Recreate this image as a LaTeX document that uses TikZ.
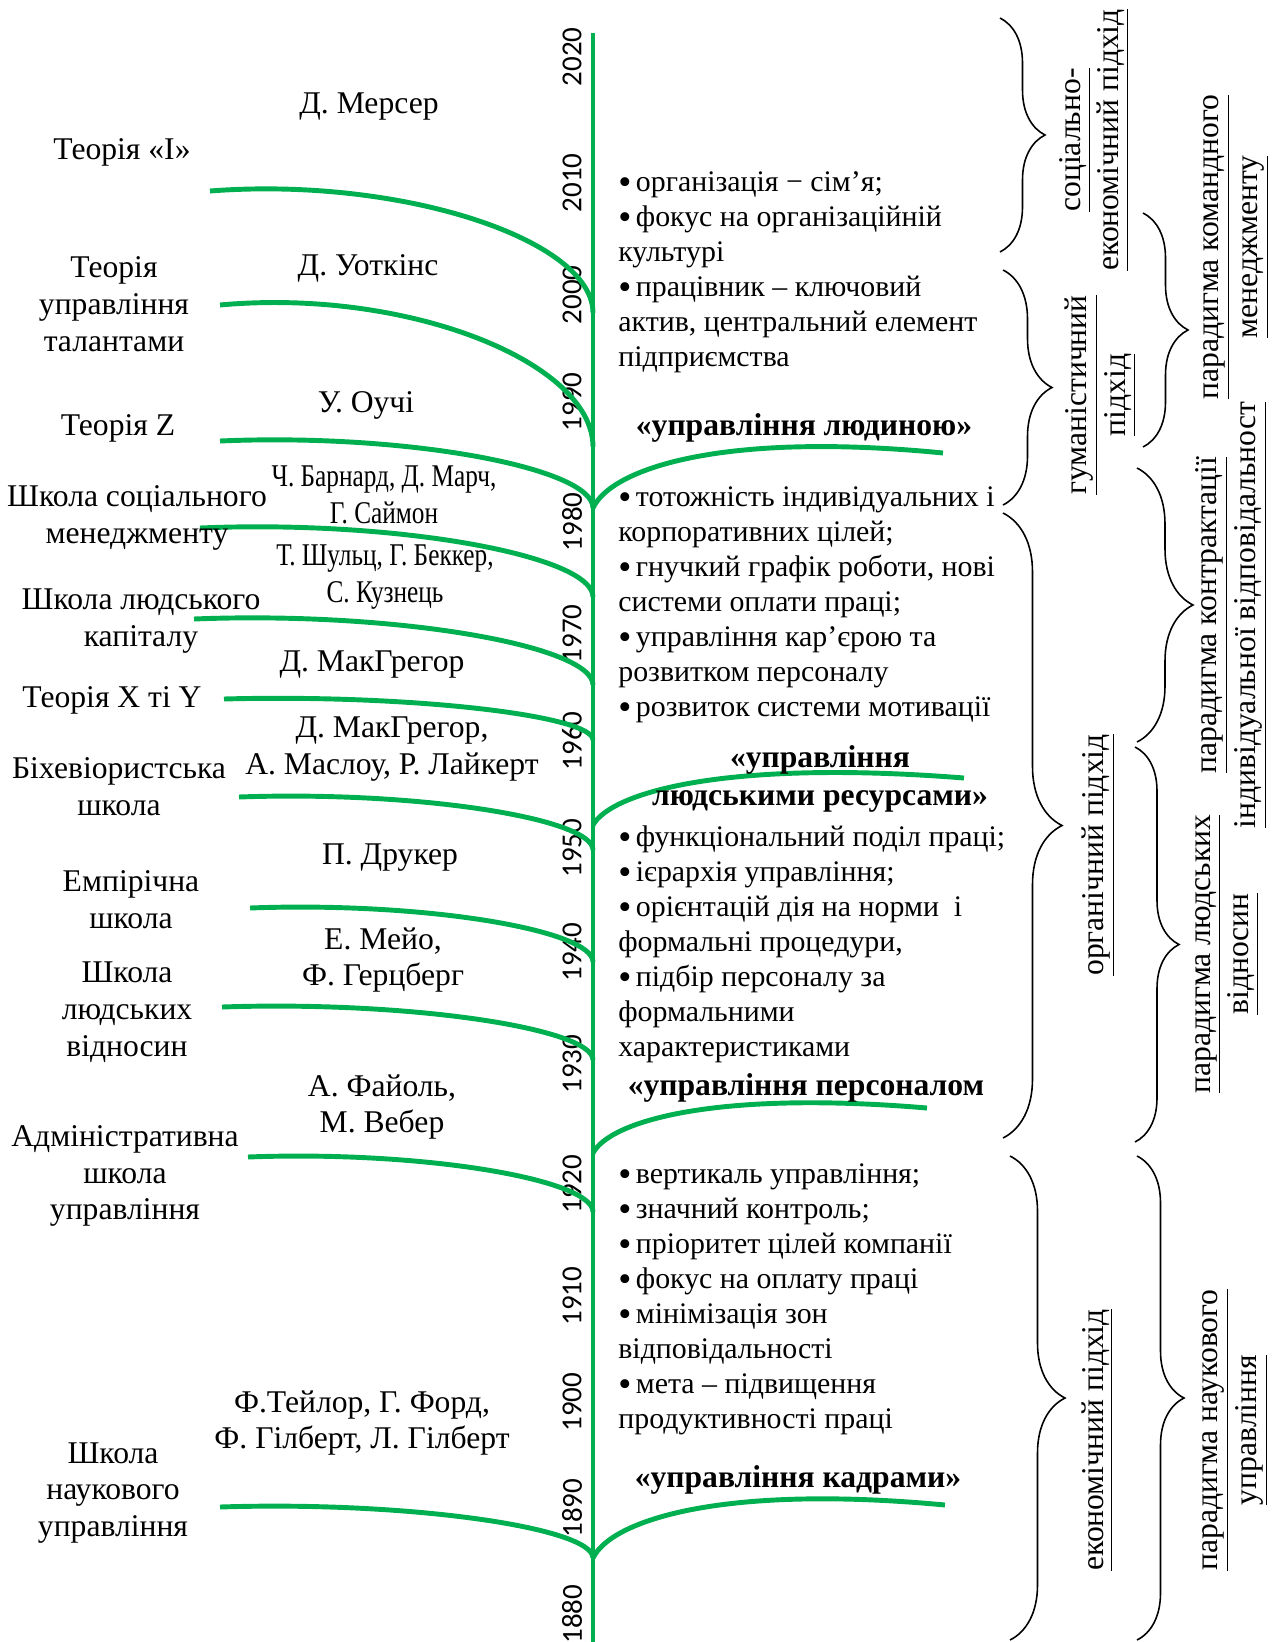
\documentclass[tikz,border=0pt]{standalone}
\usepackage{fontspec}
\usepackage{graphicx}
\setmainfont{Liberation Serif}
\newfontfamily\yearfont{Carlito}
\newfontfamily\narrowfont[FakeStretch=0.8]{Liberation Serif}
\usetikzlibrary{calc,decorations.pathreplacing}
\definecolor{leafgreen}{RGB}{0,176,80}
\newcommand{\bul}{\raisebox{-0.1em}{\scalebox{1.25}{•}}\hspace{0.15em}}

\tikzset{
  branch/.style={leafgreen, line width=2.8pt},
  school/.style={align=center, font=\fontsize{18}{21}\selectfont, inner sep=0pt},
  author/.style={align=center, font=\fontsize{18}{21}\selectfont, inner sep=0pt},
  feature/.style={align=left, anchor=north west, font=\fontsize{17}{19.9}\selectfont, inner sep=0pt},
  era/.style={align=center, font=\bfseries\fontsize{18}{22}\selectfont, inner sep=0pt},
  year/.style={rotate=90, font=\yearfont\fontsize{16.5}{18}\selectfont, inner sep=0pt},
  approach/.style={rotate=90, align=center, font=\fontsize{18}{22}\selectfont, inner sep=0pt},
  brc/.style={decorate, decoration={brace, amplitude=#1}, line width=0.9pt},
}

\begin{document}
\begin{tikzpicture}[x=0.02cm, y=-0.02cm]
    \useasboundingbox (0,0) rectangle (1278,1642);

    % Time axis
    \coordinate (top) at (593,33);
    \coordinate (bottom) at (593,1642);
    \draw[branch] (top) -- (bottom);
    \foreach \yr/\yy in {2020/57, 2010/183, 2000/295, 1990/402, 1980/522,
        1970/634, 1960/741, 1950/848, 1940/952, 1930/1064, 1920/1184,
        1910/1296, 1900/1402, 1890/1508, 1880/1614} {
        \node[year] (y\yr) at (572,\yy) {\yr};
    }

    % Branches to the left (schools)
    \coordinate (s1) at (210,191);   \coordinate (j1) at (593,313);
    \coordinate (s2) at (220,305);   \coordinate (j2) at (593,447);
    \coordinate (s3) at (220,441);   \coordinate (j3) at (593,508);
    \coordinate (s4) at (200,528);   \coordinate (j4) at (593,597);
    \coordinate (s5) at (194,619);   \coordinate (j5) at (593,685);
    \coordinate (s6) at (224,699);   \coordinate (j6) at (593,740);
    \coordinate (s7) at (239,797);   \coordinate (j7) at (593,850);
    \coordinate (s8) at (250,908);   \coordinate (j8) at (593,962);
    \coordinate (s9) at (222,1007);  \coordinate (j9) at (593,1060);
    \coordinate (s10) at (248,1157); \coordinate (j10) at (593,1212);
    \coordinate (s11) at (220,1507); \coordinate (j11) at (593,1558);
    \foreach \i in {1,...,11} {
        \draw[branch] let \p1=(s\i), \p2=(j\i) in
            (s\i) .. controls ({0.5*\x1+0.5*\x2},{\y1+0.12*(\y1-\y2)})
                  and (\x2,{\y1-0.4*(\y1-\y2)}) .. (j\i);
    }

    % Branches to the right (eras)
    \coordinate (rj1) at (593,508);  \coordinate (re1) at (943,453);
    \coordinate (rj2) at (593,825);  \coordinate (re2) at (964,778);
    \coordinate (rj3) at (593,1153); \coordinate (re3) at (927,1108);
    \coordinate (rj4) at (593,1558); \coordinate (re4) at (945,1505);
    \foreach \i in {1,...,4} {
        \draw[branch] let \p1=(rj\i), \p2=(re\i) in
            (rj\i) .. controls ({\x1+0.05*(\x2-\x1)},{\y1+0.7*(\y2-\y1)})
                   and ({\x1+0.36*(\x2-\x1)},{\y1+1.4*(\y2-\y1)}) .. (re\i);
    }

    % Schools
    \node[school] (th-i) at (122,152) {Теорія «І»};
    \node[school] (th-tal) at (114,304) {Теорія\\управління\\талантами};
    \node[school] (th-z) at (118,428) {Теорія Z};
    \node[school] (sc-soc) at (137,518) {Школа соціального\\менеджменту};
    \node[school] (sc-cap) at (141,621) {Школа людського\\капіталу};
    \node[school] (th-xy) at (112,700) {Теорія X ті Y};
    \node[school] (sc-beh) at (119,787) {Біхевіористська\\школа};
    \node[school] (sc-emp) at (131,900) {Емпірічна\\школа};
    \node[school] (sc-rel) at (127,1012) {Школа\\людських\\відносин};
    \node[school] (sc-adm) at (125,1176) {Адміністративна\\школа\\управління};
    \node[school] (sc-sci) at (113,1493) {Школа\\наукового\\управління};

    % Authors
    \node[author] (au-mer) at (369,107) {Д. Мерсер};
    \node[author] (au-wat) at (368,268) {Д. Уоткінс};
    \node[author] (au-ouc) at (366,405) {У. Оучі};
    \node[author] (au-bar) at (384,495) {\narrowfont Ч. Барнард, Д. Марч,\\\narrowfont Г. Саймон};
    \node[author] (au-sch) at (385,577) {\narrowfont Т. Шульц, Г. Беккер,\\\narrowfont С. Кузнець};
    \node[author] (au-mcg) at (372,665) {Д. МакГрегор};
    \node[author] (au-mas) at (392,749) {Д. МакГрегор,\\А. Маслоу, Р. Лайкерт};
    \node[author] (au-dru) at (390,858) {П. Друкер};
    \node[author] (au-may) at (383,960) {Е. Мейо,\\Ф. Герцберг};
    \node[author] (au-fay) at (382,1107) {А. Файоль,\\М. Вебер};
    \node[author] (au-tay) at (362,1423) {Ф.Тейлор, Г. Форд,\\Ф. Гілберт, Л. Гілберт};

    % Features of each era
    \node[feature] (ft-a) at (618,167) {\strut\bul організація − сім’я;\\
        \bul фокус на організаційній\\культурі\\
        \bul працівник – ключовий\\актив, центральний елемент\\підприємства};
    \node[feature] (ft-b) at (618,482) {\strut\bul тотожність індивідуальних і\\
        корпоративних цілей;\\
        \bul гнучкий графік роботи, нові\\системи оплати праці;\\
        \bul управління кар’єрою та\\розвитком персоналу\\
        \bul розвиток системи мотивації};
    \node[feature] (ft-c) at (618,822) {\strut\bul функціональний поділ праці;\\
        \bul ієрархія управління;\\
        \bul орієнтацій дія на норми\ \ і\\формальні процедури,\\
        \bul підбір персоналу за\\формальними\\характеристиками};
    \node[feature] (ft-d) at (618,1159) {\strut\bul вертикаль управління;\\
        \bul значний контроль;\\
        \bul пріоритет цілей компанії\\
        \bul фокус на оплату праці\\
        \bul мінімізація зон\\відповідальності\\
        \bul мета – підвищення\\продуктивності праці};

    % Eras
    \node[era] (era-man) at (804,428) {«управління людиною»};
    \node[era] (era-hr) at (820,779) {«управління\\людськими ресурсами»};
    \node[era] (era-pers) at (806,1088) {«управління персоналом};
    \node[era] (era-kadr) at (798,1480) {«управління кадрами»};

    % Approaches
    \draw[brc=0.9cm] (1000,18) -- (1000,252);
    \draw[brc=0.98cm] (1003,270) -- (1003,505);
    \draw[brc=1.18cm] (1003,513) -- (1003,1138);
    \draw[brc=1.1cm] (1010,1156) -- (1010,1640);
    \node[approach] (ap-soc) at (1094,140) {\underline{соціально-}\\\underline{економічний підхід}};
    \node[approach] (ap-hum) at (1100,395) {\underline{гуманістичний}\\\underline{підхід}};
    \node[approach] (ap-org) at (1098,855) {\underline{органічний підхід}};
    \node[approach] (ap-eco) at (1097,1440) {\underline{економічний підхід}};

    % Paradigms
    \draw[brc=0.9cm] (1143,213) -- (1143,447);
    \draw[brc=1.12cm] (1137,468) -- (1137,742);
    \draw[brc=0.88cm] (1135,747) -- (1135,1142);
    \draw[brc=0.94cm] (1137,1156) -- (1137,1640);
    \node[approach] (pa-team) at (1236,247) {\underline{парадигма командного}\\\underline{менеджменту}};
    \node[approach] (pa-con) at (1231,615) {\underline{парадигма контрактації}\\\underline{індивідуальної відповідальност}};
    \node[approach] (pa-rel) at (1227,954) {\underline{парадигма людських}\\\underline{відносин}};
    \node[approach] (pa-sci) at (1235,1430) {\underline{парадигма наукового}\\\underline{управління}};
\end{tikzpicture}
\end{document}
